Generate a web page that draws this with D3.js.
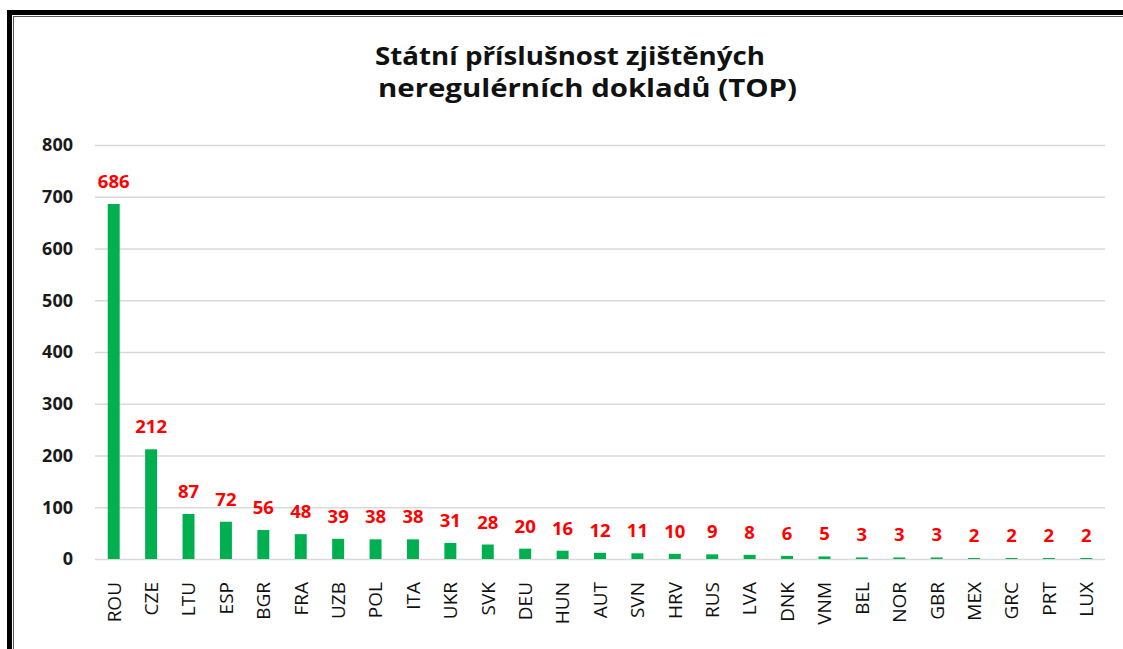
<!DOCTYPE html>
<html><head><meta charset="utf-8">
<script src="https://cdn.jsdelivr.net/npm/d3@7"></script>
<style>
html,body{margin:0;padding:0;background:#fff;}
svg{display:block;}
text{font-family:"Open Sans","Noto Sans",sans-serif;}
</style></head>
<body>
<svg id="chart" width="1123" height="649"></svg>
<script>
const categories = ["ROU","CZE","LTU","ESP","BGR","FRA","UZB","POL","ITA","UKR","SVK","DEU","HUN","AUT","SVN","HRV","RUS","LVA","DNK","VNM","BEL","NOR","GBR","MEX","GRC","PRT","LUX"];
const values = [686,212,87,72,56,48,39,38,38,31,28,20,16,12,11,10,9,8,6,5,3,3,3,2,2,2,2];
const yTicks = [0,100,200,300,400,500,600,700,800];
const titleLines = ["Státní příslušnost zjištěných","neregulérních dokladů (TOP)"];

(function(){
const svg = d3.select("#chart");
const W = 1123, H = 649;
const pL = 95, pR = 1105, pT = 145, pB = 559;

// frame
svg.append("rect").attr("x",9.5).attr("y",12.5).attr("width",W+20).attr("height",H+20)
  .attr("fill","none").attr("stroke","#000").attr("stroke-width",5);
svg.append("rect").attr("x",13.5).attr("y",16.5).attr("width",W+20).attr("height",H+20)
  .attr("fill","none").attr("stroke","#555").attr("stroke-width",1);

const x = d3.scaleBand().domain(categories).range([pL,pR]).paddingInner(0.68).paddingOuter(0.34);
const y = d3.scaleLinear().domain([0,800]).range([pB,pT]);

// gridlines
const yAxis = d3.axisLeft(y).tickValues(yTicks).tickSize(-(pR-pL)).tickPadding(22);
const gy = svg.append("g").attr("transform",`translate(${pL},0)`).call(yAxis);
gy.select(".domain").remove();
gy.selectAll(".tick line").attr("stroke","#d9d9d9").attr("stroke-width",1.5);
gy.selectAll(".tick text").attr("font-size",18).attr("font-weight","bold").attr("fill","#1a1a1a")
  .attr("font-family","'Open Sans',sans-serif");

// bars
svg.append("g").selectAll("rect").data(values).join("rect")
  .attr("x",(d,i)=>x(categories[i]))
  .attr("y",d=>y(d))
  .attr("width",x.bandwidth())
  .attr("height",d=>y(0)-y(d))
  .attr("fill","#00b050");

// value labels
svg.append("g").selectAll("text").data(values).join("text")
  .attr("x",(d,i)=>x(categories[i])+x.bandwidth()/2)
  .attr("y",d=>y(d)-16)
  .attr("text-anchor","middle")
  .attr("font-size",18.5).attr("font-weight","bold").attr("fill","#ff0000")
  .text(d=>d);

// x axis
const xAxis = d3.axisBottom(x).tickSize(0).tickPadding(0);
const gx = svg.append("g").attr("transform",`translate(0,${pB})`).call(xAxis);
gx.select(".domain").remove();
gx.selectAll(".tick text")
  .attr("font-size",19).attr("fill","#111").attr("font-family","'Open Sans',sans-serif")
  .attr("transform","rotate(-90)")
  .attr("text-anchor","end")
  .attr("x",-23).attr("y",0).attr("dy","0.36em");

// title
const tl = [[65,375,390],[97,378,419]];
svg.append("g").selectAll("text").data(titleLines).join("text")
  .attr("x",(d,i)=>tl[i][1])
  .attr("y",(d,i)=>tl[i][0])
  .attr("font-size",25).attr("font-weight","bold").attr("fill","#111")
  .attr("textLength",(d,i)=>tl[i][2]).attr("lengthAdjust","spacingAndGlyphs")
  .text(d=>d);
})();
</script>
</body></html>
